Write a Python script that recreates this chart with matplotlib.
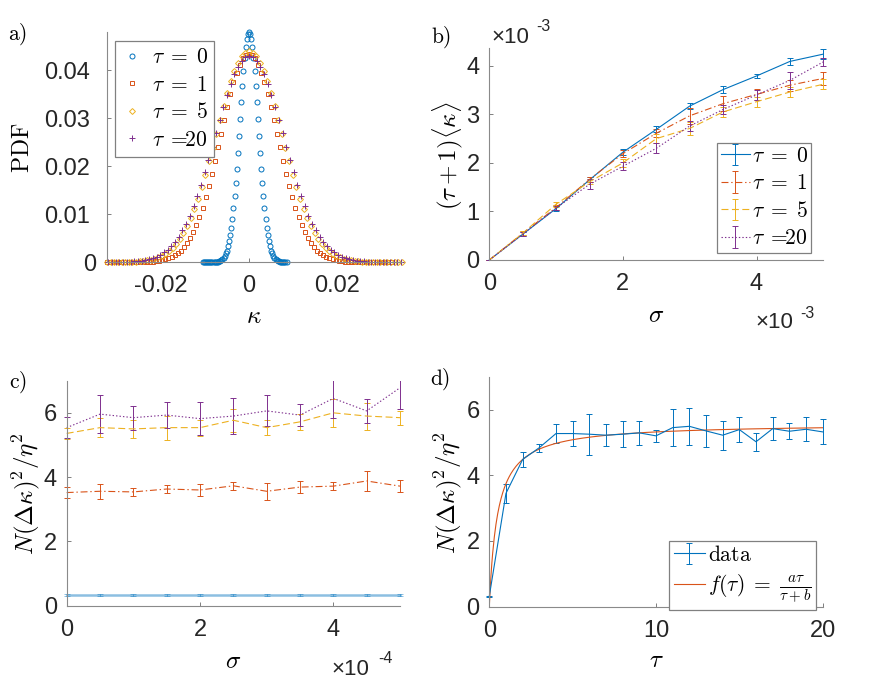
import numpy as np
import matplotlib
matplotlib.use('Agg')
import matplotlib.pyplot as plt
from matplotlib.transforms import ScaledTranslation, Bbox, TransformedBbox

plt.rcParams['font.family'] = ['Liberation Sans', 'DejaVu Sans']
plt.rcParams['mathtext.fontset'] = 'cm'
plt.rcParams['axes.unicode_minus'] = False
plt.rcParams['lines.scale_dashes'] = False

C_BLUE, C_ORANGE, C_YELLOW, C_PURPLE = '#0072BD', '#D95319', '#EDB120', '#7E2F8E'

# ---------------- panel a: PDFs of kappa ----------------
kappa_tau0 = np.linspace(-0.0105, 0.0085, 77)
pdf_tau0 = [0, 0, 0, 0, 0, 0, 0, 0, 0, 0, 0, 0, 0, 0,
            .0001, .0002, .0003, .0005, .0007, .0009, .0013, .0018, .0024, .0033,
            .0043, .0056, .0071, .0090, .0112, .0137, .0164, .0195, .0228, .0263,
            .0298, .0333, .0367, .0399, .0426, .0449, .0466, .0476,
            .0480,
            .0476, .0466, .0449, .0426, .0399, .0367, .0333, .0298, .0263, .0228,
            .0195, .0164, .0137, .0112, .0090, .0071, .0056, .0043, .0033, .0024,
            .0018, .0013, .0009, .0007, .0005, .0003, .0002, .0001,
            0, 0, 0, 0, 0, 0]

kappa_tau1 = np.linspace(-0.0322, 0.0322, 93)
pdf_tau1 = [0, 0, 0, 0, 0, 0, 0, 0, 0, 0, 0, 0, 0,
            .0001, .0001, .0001, .0002, .0003, .0004, .0006, .0008, .0010, .0014,
            .0018, .0024, .0031, .0040, .0050, .0063, .0077, .0094, .0113, .0135,
            .0158, .0184, .0211, .0239, .0268, .0297, .0324, .0351, .0375, .0395,
            .0412, .0425, .0432,
            .0435,
            .0432, .0425, .0412, .0395, .0375, .0351, .0324, .0297, .0268, .0239,
            .0211, .0184, .0158, .0135, .0113, .0094, .0077, .0063, .0050, .0040,
            .0031, .0024, .0018, .0014, .0010, .0008, .0006, .0004, .0003, .0002,
            .0001, .0001, .0001,
            0, 0, 0, 0, 0, 0, 0, 0, 0, 0, 0, 0, 0]

kappa_tau5 = np.linspace(-0.0321, 0.0346, 82)
pdf_tau5 = [0, 0, 0, 0, 0, 0, 0,
            .0001, .0001, .0002, .0003, .0004, .0005, .0007, .0010, .0013, .0017,
            .0023, .0030, .0038, .0048, .0060, .0075, .0092, .0111, .0132, .0156,
            .0182, .0210, .0238, .0268, .0297, .0326, .0353, .0378, .0399, .0416,
            .0429, .0437,
            .0440,
            .0437, .0429, .0416, .0399, .0378, .0353, .0326, .0297, .0268, .0238,
            .0210, .0182, .0156, .0132, .0111, .0092, .0075, .0060, .0048, .0038,
            .0030, .0023, .0017, .0013, .0010, .0007, .0005, .0004, .0003, .0002,
            .0001, .0001,
            0, 0, 0, 0, 0, 0, 0, 0, 0, 0]

kappa_tau20 = np.linspace(-0.0318, 0.0344, 80)
pdf_tau20 = [0, 0, 0, 0,
             .0001, .0001, .0001, .0002, .0002, .0003, .0005, .0006, .0009, .0011,
             .0015, .0020, .0026, .0033, .0042, .0053, .0066, .0080, .0097, .0117,
             .0138, .0161, .0187, .0213, .0241, .0269, .0297, .0324, .0349, .0372,
             .0392, .0408, .0420, .0428,
             .0430,
             .0428, .0420, .0408, .0392, .0372, .0349, .0324, .0297, .0269, .0241,
             .0213, .0187, .0161, .0138, .0117, .0097, .0080, .0066, .0053, .0042,
             .0033, .0026, .0020, .0015, .0011, .0009, .0006, .0005, .0003, .0002,
             .0002, .0001, .0001, .0001,
             0, 0, 0, 0, 0, 0, 0]

# ---------------- panel b: (tau+1)<kappa> vs sigma (x1e-3) ----------------
sigma_b = [0, 0.5, 1, 1.5, 2, 2.5, 3, 3.5, 4, 4.5, 5]
b_tau0 = [0, 0.53, 1.06, 1.65, 2.22, 2.69, 3.17, 3.51, 3.79, 4.09, 4.24]
b_tau0_err = [0.01, 0.045, 0.055, 0.05, 0.06, 0.06, 0.07, 0.07, 0.045, 0.08, 0.11]
b_tau1 = [0, 0.55, 1.08, 1.66, 2.19, 2.61, 2.97, 3.22, 3.41, 3.60, 3.74]
b_tau1_err = [0.01, 0.04, 0.05, 0.05, 0.07, 0.08, 0.17, 0.15, 0.11, 0.11, 0.14]
b_tau5 = [0, 0.55, 1.15, 1.61, 2.00, 2.50, 2.71, 3.05, 3.26, 3.46, 3.62]
b_tau5_err = [0.01, 0.04, 0.05, 0.05, 0.09, 0.10, 0.14, 0.10, 0.10, 0.11, 0.10]
b_tau20 = [0, 0.53, 1.07, 1.56, 1.93, 2.30, 2.76, 3.10, 3.40, 3.70, 4.08]
b_tau20_err = [0.01, 0.04, 0.05, 0.10, 0.085, 0.10, 0.11, 0.10, 0.10, 0.17, 0.08]

# ---------------- panel c: N(dk)^2/eta^2 vs sigma (x1e-4) ----------------
sigma_c = [0, 0.5, 1, 1.5, 2, 2.5, 3, 3.5, 4, 4.5, 5]
c_tau0 = [0.33, 0.33, 0.33, 0.33, 0.33, 0.33, 0.33, 0.33, 0.33, 0.33, 0.33]
c_tau0_err = [0.02, 0.02, 0.02, 0.02, 0.02, 0.02, 0.02, 0.02, 0.02, 0.02, 0.02]
c_tau1 = [3.52, 3.56, 3.54, 3.63, 3.60, 3.73, 3.56, 3.69, 3.72, 3.88, 3.72]
c_tau1_err = [0.16, 0.24, 0.12, 0.12, 0.19, 0.13, 0.27, 0.19, 0.13, 0.30, 0.19]
c_tau5 = [5.36, 5.54, 5.50, 5.54, 5.54, 5.77, 5.54, 5.72, 6.00, 5.90, 5.85]
c_tau5_err = [0.18, 0.30, 0.27, 0.37, 0.25, 0.36, 0.23, 0.25, 0.44, 0.42, 0.22]
c_tau20 = [5.54, 5.96, 5.85, 5.93, 5.82, 5.90, 6.06, 5.93, 6.45, 6.06, 6.78]
c_tau20_err = [0.32, 0.58, 0.37, 0.41, 0.52, 0.55, 0.48, 0.33, 0.60, 0.37, 0.65]

# ---------------- panel d: N(dk)^2/eta^2 vs tau ----------------
tau_d = [0, 1, 2, 3, 4, 5, 6, 7, 8, 9, 10, 11, 12, 13, 14, 15, 16, 17, 18, 19, 20]
d_vals = [0.32, 3.45, 4.48, 4.84, 5.27, 5.27, 5.25, 5.22, 5.25, 5.29, 5.20,
          5.45, 5.49, 5.35, 5.22, 5.39, 5.02, 5.42, 5.34, 5.40, 5.32]
d_err = [0.02, 0.28, 0.24, 0.12, 0.30, 0.39, 0.62, 0.34, 0.40, 0.36, 0.19,
         0.57, 0.57, 0.49, 0.44, 0.39, 0.27, 0.36, 0.25, 0.36, 0.38]
fit_a, fit_b = 5.58, 0.49

tau_labels = [r'$\tau\;=\;0$', r'$\tau\;=\;1$', r'$\tau\;=\;5$', r'$\tau\;=\!\!20$']

# ---------------- figure ----------------
W, H = 872, 689
fig = plt.figure(figsize=(W / 100, H / 100), dpi=100)


def axes_px(left, top, right, bottom):
    return fig.add_axes([left / W, 1 - bottom / H, (right - left) / W, (bottom - top) / H])


def ftext(xpx, ypx, s, **kw):
    return fig.text(xpx / W, 1 - ypx / H, s, **kw)


def style(ax, ypad=7):
    for s in ['top', 'right']:
        ax.spines[s].set_visible(False)
    for s in ['left', 'bottom']:
        ax.spines[s].set_color('#8a8a8a')
        ax.spines[s].set_linewidth(0.8)
    ax.tick_params(direction='in', length=3, width=0.6, color='#6a6a6a',
                   labelsize=17, labelcolor='#262626')
    ax.tick_params(axis='x', pad=9.5)
    ax.tick_params(axis='y', pad=ypad)


def leg(ax, handles, labels, x, y, **kw):
    lg = ax.legend(handles, labels, loc='upper left', bbox_to_anchor=(x / W, 1 - y / H),
                   bbox_transform=fig.transFigure, borderaxespad=0, fontsize=15.5,
                   fancybox=False, framealpha=1, edgecolor='#808080', **kw)
    lg.get_frame().set_linewidth(0.9)
    return lg


def loose_clip(ax, container):
    # clip to the plot box vertically, let caps at the x ends show fully
    bb = TransformedBbox(Bbox([[-0.05, -0.03], [1.05, 1.0]]), ax.transAxes)
    for art in container.get_children():
        art.set_clip_box(bb)


LW = 0.8
ekw = dict(capsize=2.3, elinewidth=0.7, capthick=0.7)

# ---- a ----
ax = axes_px(107, 32, 402, 262)
mk = dict(ls='none', mfc='none', mew=0.7, clip_on=False)
h0, = ax.plot(kappa_tau0, pdf_tau0, marker='o', ms=3.6, color=C_BLUE, **mk)
h1, = ax.plot(kappa_tau1, pdf_tau1, marker='s', ms=3.0, color=C_ORANGE, **mk)
h2, = ax.plot(kappa_tau5, pdf_tau5, marker='D', ms=3.0, color=C_YELLOW, **mk)
h3, = ax.plot(kappa_tau20, pdf_tau20, marker='+', ms=4.2, color=C_PURPLE, **mk)
ax.set_xlim(-0.0321, 0.0346)
ax.set_ylim(0, 0.048)
style(ax, ypad=12)
ax.set_xticks([-0.02, 0, 0.02], ['-0.02', '0', '0.02'])
ax.set_yticks([0, 0.01, 0.02, 0.03, 0.04], ['0', '0.01', '0.02', '0.03', '0.04'])
lab0 = ax.get_yticklabels()[0]
lab0.set_transform(lab0.get_transform() + ScaledTranslation(6 / 100, 0, fig.dpi_scale_trans))
leg(ax, [h0, h1, h2, h3], tau_labels, 115, 40.7, handlelength=1.0, handletextpad=0.4,
    borderpad=0.3, labelspacing=0.3, numpoints=1)
ftext(22.8, 148.3, r'$\mathrm{PDF}$', fontsize=17, rotation=90, ha='center', va='center')
ftext(253.7, 316.3, r'$\kappa$', fontsize=18, ha='center', va='center')
ftext(17.5, 34.5, r'$\mathrm{a)}$', fontsize=15.5, ha='center', va='center')

# ---- b ----
ax = axes_px(489.3, 48.3, 823.3, 260)
e0 = ax.errorbar(sigma_b, b_tau0, yerr=b_tau0_err, color=C_BLUE, ls='-', lw=LW, **ekw)
e1 = ax.errorbar(sigma_b, b_tau1, yerr=b_tau1_err, color=C_ORANGE, lw=LW, **ekw)
e1[0].set_dashes([5, 2, 1, 2])
e2 = ax.errorbar(sigma_b, b_tau5, yerr=b_tau5_err, color=C_YELLOW, lw=LW, **ekw)
e2[0].set_dashes([5, 2.5])
e3 = ax.errorbar(sigma_b, b_tau20, yerr=b_tau20_err, color=C_PURPLE, lw=LW, **ekw)
e3[0].set_dashes([1, 1.5])
for e in (e0, e1, e2, e3):
    loose_clip(ax, e)
ax.set_xlim(0, 5)
ax.set_ylim(0, 4.36)
style(ax)
ax.set_xticks([0, 2, 4], ['0', '2', '4'])
ax.set_yticks([0, 1, 2, 3, 4], ['0', '1', '2', '3', '4'])
leg(ax, [e0, e1, e2, e3], tau_labels, 717.3, 142.7, handlelength=1.35, handletextpad=0.1,
    borderpad=0.15, labelspacing=0.3)
ftext(447.3, 155.5, r'$(\tau+1)\langle\kappa\rangle$', fontsize=18, rotation=90,
      ha='center', va='center')
ftext(655.7, 315, r'$\sigma$', fontsize=18, ha='center', va='center')
ftext(441.3, 37.5, r'$\mathrm{b)}$', fontsize=15.5, ha='center', va='center')
ftext(491.7, 42.7, '×10', fontsize=16, color='#262626', va='baseline')
ftext(536.7, 30.7, '-3', fontsize=11.5, color='#262626', va='baseline')
ftext(755, 328.3, '×10', fontsize=16, color='#262626', va='baseline')
ftext(800, 318, '-3', fontsize=11.5, color='#262626', va='baseline')

# ---- c ----
ax = axes_px(66.7, 380.7, 400, 605.7)
f0 = ax.errorbar(sigma_c, c_tau0, yerr=c_tau0_err, color=C_BLUE, ls='-', lw=1.8,
                 alpha=0.45, **ekw)
f1 = ax.errorbar(sigma_c, c_tau1, yerr=c_tau1_err, color=C_ORANGE, lw=LW, **ekw)
f1[0].set_dashes([5, 2, 1, 2])
f2 = ax.errorbar(sigma_c, c_tau5, yerr=c_tau5_err, color=C_YELLOW, lw=LW, **ekw)
f2[0].set_dashes([5, 2.5])
f3 = ax.errorbar(sigma_c, c_tau20, yerr=c_tau20_err, color=C_PURPLE, lw=LW, **ekw)
f3[0].set_dashes([1, 1.5])
for e in (f0, f1, f2, f3):
    loose_clip(ax, e)
ax.set_xlim(0, 5)
ax.set_ylim(0, 7)
style(ax)
ax.set_xticks([0, 2, 4], ['0', '2', '4'])
ax.set_yticks([0, 2, 4, 6], ['0', '2', '4', '6'])
ftext(25.8, 493.3, r'$N(\Delta\kappa)^2/\eta^2$', fontsize=18, rotation=90,
      ha='center', va='center')
ftext(233.3, 660.7, r'$\sigma$', fontsize=18, ha='center', va='center')
ftext(17.5, 382.5, r'$\mathrm{c)}$', fontsize=15.5, ha='center', va='center')
ftext(331.7, 675, '×10', fontsize=16, color='#262626', va='baseline')
ftext(378, 663.3, '-4', fontsize=11.5, color='#262626', va='baseline')

# ---- d ----
ax = axes_px(489.3, 376.7, 822.7, 606.7)
g0 = ax.errorbar(tau_d, d_vals, yerr=d_err, color=C_BLUE, ls='-', lw=LW, **ekw)
loose_clip(ax, g0)
tau_fit = np.linspace(0, 20, 400)
g1, = ax.plot(tau_fit, fit_a * tau_fit / (tau_fit + fit_b), color=C_ORANGE, lw=LW)
ax.set_xlim(0, 20)
ax.set_ylim(0, 7)
style(ax)
ax.set_xticks([0, 10, 20], ['0', '10', '20'])
ax.set_yticks([0, 2, 4, 6], ['0', '2', '4', '6'])
leg(ax, [g0, g1], [r'$\mathrm{data}$', r'$f(\tau)\;=\;\frac{a\tau}{\tau+b}$'], 669.3, 540.7,
    handlelength=1.45, handletextpad=0.15, borderpad=0.2, labelspacing=0.3)
ftext(448.3, 492.5, r'$N(\Delta\kappa)^2/\eta^2$', fontsize=18, rotation=90,
      ha='center', va='center')
ftext(656, 660, r'$\tau$', fontsize=18, ha='center', va='center')
ftext(440, 379, r'$\mathrm{d)}$', fontsize=15.5, ha='center', va='center')

fig.savefig('out.png', dpi=100)
